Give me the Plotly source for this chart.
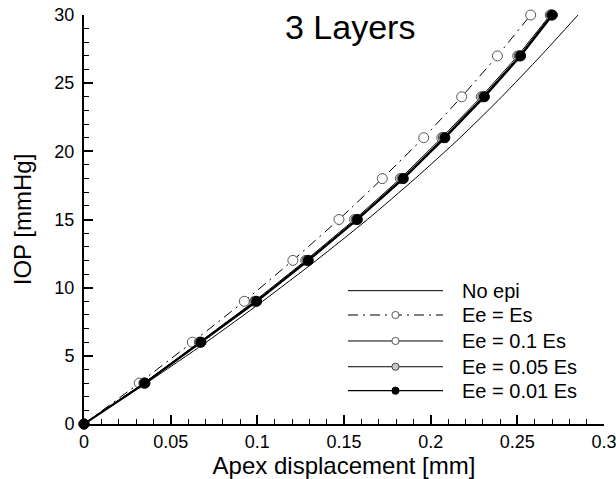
import plotly.graph_objects as go

# ---- data ----
iop = [0, 3, 6, 9, 12, 15, 18, 21, 24, 27, 30]
no_epi = [0, 0.0360, 0.0705, 0.1030, 0.1340, 0.1635, 0.1910, 0.2170, 0.2410, 0.2635, 0.2850]
ee_es = [0, 0.0319, 0.0625, 0.0925, 0.1205, 0.1471, 0.1721, 0.1960, 0.2179, 0.2385, 0.2577]
ee_01 = [0, 0.0345, 0.0665, 0.0983, 0.1279, 0.1561, 0.1825, 0.2064, 0.2292, 0.2502, 0.2690]
ee_005 = [0, 0.0348, 0.0670, 0.0990, 0.1287, 0.1570, 0.1834, 0.2073, 0.2301, 0.2511, 0.2696]
ee_001 = [0, 0.0352, 0.0675, 0.0996, 0.1294, 0.1577, 0.1842, 0.2082, 0.2310, 0.2519, 0.2702]

series_names = ["No epi", "Ee = Es", "Ee = 0.1 Es", "Ee = 0.05 Es", "Ee = 0.01 Es"]
x_tickvals = [0, 0.05, 0.1, 0.15, 0.2, 0.25, 0.3]
x_ticktext = ["0", "0.05", "0.1", "0.15", "0.2", "0.25", "0.3"]
y_tickvals = [0, 5, 10, 15, 20, 25, 30]
y_ticktext = ["0", "5", "10", "15", "20", "25", "30"]

FONT = "Liberation Sans, Arial, sans-serif"
DASHDOT = "10px,5px,2px,5px"

styles = [
    dict(line=dict(color="black", width=1, shape="spline", smoothing=0.6), mode="lines", marker=None,
         lg_marker=None),
    dict(line=dict(color="black", width=1, dash=DASHDOT), mode="lines+markers",
         marker=dict(size=10, color="white", line=dict(color="#555555", width=1)),
         lg_marker=("white", "#555555")),
    dict(line=dict(color="black", width=1), mode="lines+markers",
         marker=dict(size=10, color="white", line=dict(color="#555555", width=1)),
         lg_marker=("white", "#555555")),
    dict(line=dict(color="black", width=1), mode="lines+markers",
         marker=dict(size=10, color="#c8c8c8", line=dict(color="#444444", width=1)),
         lg_marker=("#c8c8c8", "#444444")),
    dict(line=dict(color="black", width=2.2), mode="lines+markers",
         marker=dict(size=10, color="black", line=dict(color="black", width=1)),
         lg_marker=("black", "black")),
]
xs = [no_epi, ee_es, ee_01, ee_005, ee_001]

fig = go.Figure()
for name, xv, st in zip(series_names, xs, styles):
    kw = dict(x=xv, y=iop, name=name, mode=st["mode"], line=st["line"], cliponaxis=False,
              showlegend=False)
    if st["marker"] is not None:
        kw["marker"] = st["marker"]
    fig.add_trace(go.Scatter(**kw))

# ---- custom legend (long sample lines, as in the original) ----
lg_x0, lg_x1, lg_xm, lg_xt = 0.5077, 0.6904, 0.599, 0.723
lg_ys = [0.326, 0.2665, 0.203, 0.140, 0.0815]
for name, st, ly in zip(series_names, styles, lg_ys):
    ln = dict(color="black", width=st["line"]["width"] if st["line"]["width"] < 2 else 1.3)
    if "dash" in st["line"]:
        ln["dash"] = st["line"]["dash"]
    fig.add_shape(type="line", xref="paper", yref="paper", x0=lg_x0, x1=lg_x1, y0=ly, y1=ly, line=ln)
    if st["lg_marker"] is not None:
        fc, lc = st["lg_marker"]
        fig.add_shape(type="circle", xref="paper", yref="paper", xsizemode="pixel", ysizemode="pixel",
                      xanchor=lg_xm, yanchor=ly, x0=-3.6, x1=3.6, y0=-3.6, y1=3.6,
                      fillcolor=fc, line=dict(color=lc, width=1))
    fig.add_annotation(x=lg_xt, y=ly, xref="paper", yref="paper", text=name, showarrow=False,
                       xanchor="left", yanchor="middle", font=dict(family=FONT, size=20, color="black"))

fig.add_annotation(x=0.5115, y=0.97, xref="paper", yref="paper", text="3 Layers", showarrow=False,
                   xanchor="center", yanchor="middle", font=dict(family=FONT, size=34, color="black"))

axis_common = dict(showline=True, linewidth=2, linecolor="black", showgrid=False, zeroline=False,
                   ticks="inside", ticklen=9, tickwidth=2, tickcolor="black", automargin=False,
                   ticklabeloverflow="allow",
                   tickfont=dict(family=FONT, size=18, color="black"))
fig.update_xaxes(range=[0, 0.3], tickmode="array", tickvals=x_tickvals, ticktext=x_ticktext,
                 minor=dict(ticks="inside", ticklen=5, tickwidth=1, tickcolor="black", dtick=0.01),
                 ticklabelstandoff=0,
                 title=dict(text="Apex displacement [mm]", font=dict(family=FONT, size=24, color="black"),
                            standoff=2),
                 **axis_common)
fig.update_yaxes(range=[0, 30], tickmode="array", tickvals=y_tickvals, ticktext=y_ticktext,
                 minor=dict(ticks="inside", ticklen=5, tickwidth=1, tickcolor="black", dtick=1),
                 ticklabelstandoff=4,
                 title=dict(text="IOP [mmHg]", font=dict(family=FONT, size=24, color="black"),
                            standoff=16),
                 **axis_common)

fig.update_layout(width=616, height=479, margin=dict(l=84, r=12, t=15, b=55),
                  plot_bgcolor="white", paper_bgcolor="white", showlegend=False,
                  font=dict(family=FONT, color="black"))

# remove the default page margin so the figure fills the 616x479 window exactly
fig.write_html("out.html", config={"displayModeBar": False},
               post_script="document.body.style.margin='0';document.body.style.overflow='hidden';")
